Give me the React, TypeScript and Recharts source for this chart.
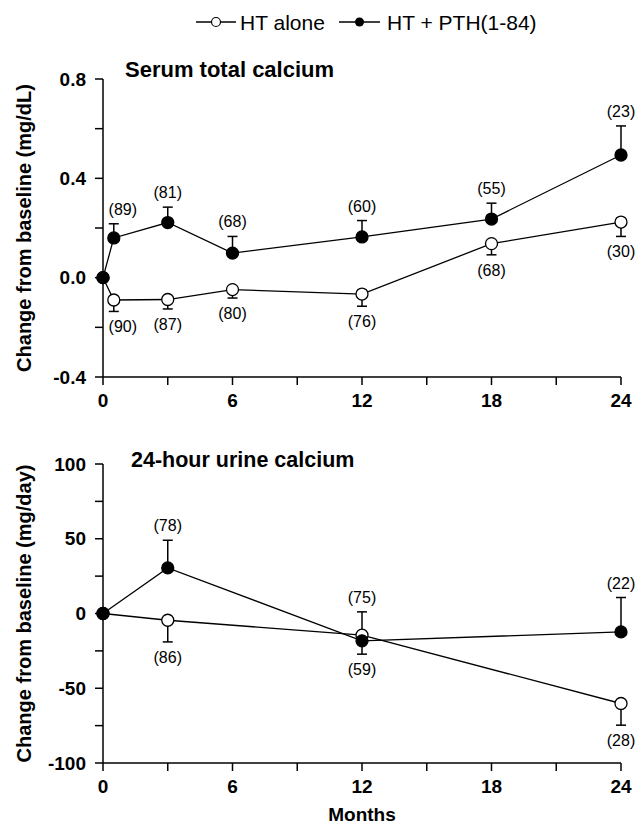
import { LineChart, Line, XAxis, YAxis, ErrorBar, LabelList } from 'recharts'

// serum total calcium, change from baseline (mg/dL)
const serumMonths = [0, 0.5, 3, 6, 12, 18, 24]
const serumAlone = [0, -0.09, -0.088, -0.048, -0.066, 0.137, 0.224]
const serumAloneErr = [0, 0.046, 0.038, 0.034, 0.049, 0.045, 0.058]
const serumAloneN = ['', '(90)', '(87)', '(80)', '(76)', '(68)', '(30)']
const serumPth = [0, 0.16, 0.222, 0.099, 0.164, 0.236, 0.494]
const serumPthErr = [0, 0.057, 0.062, 0.067, 0.066, 0.064, 0.117]
const serumPthN = ['', '(89)', '(81)', '(68)', '(60)', '(55)', '(23)']
const serumAloneDir = [-1, -1, -1, -1, -1, -1, -1]
const serumPthDir = [1, 1, 1, 1, 1, 1, 1]

// 24-hour urine calcium, change from baseline (mg/day)
const urineMonths = [0, 3, 12, 24]
const urineAlone = [0, -4.5, -14.5, -60.2]
const urineAloneErr = [0, 14.5, 15.6, 14.5]
const urineAloneN = ['', '(86)', '(75)', '(28)']
const urinePth = [0, 30.5, -18.3, -12.3]
const urinePthErr = [0, 18.5, 8.9, 23]
const urinePthN = ['', '(78)', '(59)', '(22)']
const urineAloneDir = [-1, -1, 1, -1]
const urinePthDir = [1, 1, -1, 1]

const monthTicks = [0, 3, 6, 9, 12, 15, 18, 21, 24]
const serumTicks = [-0.4, -0.2, 0, 0.2, 0.4, 0.6, 0.8]
const urineTicks = [-100, -75, -50, -25, 0, 25, 50, 75, 100]

const FONT = '"Liberation Sans", Arial, Helvetica, sans-serif'

function build(months: number[], alone: number[], aloneErr: number[], aloneN: string[], aloneDir: number[],
  pth: number[], pthErr: number[], pthN: string[], pthDir: number[]) {
  return months.map((m, i) => ({
    month: m,
    alone: alone[i],
    aloneErr: aloneDir[i] < 0 ? [aloneErr[i], 0] : [0, aloneErr[i]],
    aloneEnd: alone[i] + aloneDir[i] * aloneErr[i],
    aloneN: aloneN[i],
    pth: pth[i],
    pthErr: pthDir[i] < 0 ? [pthErr[i], 0] : [0, pthErr[i]],
    pthEnd: pth[i] + pthDir[i] * pthErr[i],
    pthN: pthN[i],
  }))
}

const serumData = build(serumMonths, serumAlone, serumAloneErr, serumAloneN, serumAloneDir,
  serumPth, serumPthErr, serumPthN, serumPthDir)
const urineData = build(urineMonths, urineAlone, urineAloneErr, urineAloneN, urineAloneDir,
  urinePth, urinePthErr, urinePthN, urinePthDir)

// (n) labels sit past the end of the error bar
const nLabel = (dirs: number[]) => (props: any) => {
  const { value, index } = props
  if (!value) return null
  const x = props.x ?? props.viewBox?.x
  const y = props.y ?? props.viewBox?.y
  const below = dirs[index] < 0
  const dx = x < 125 ? 9 : 0
  return (
    <text x={x + dx} y={below ? y + 21 : y - 9} textAnchor="middle" fontSize={16} fill="#000" fontFamily={FONT}>
      {value}
    </text>
  )
}

const axisStroke = { stroke: '#000', strokeWidth: 1.5 }
const tickStyle = { fill: '#000', fontSize: 19, fontWeight: 'bold' }
const openDot = { r: 6, fill: '#fff', stroke: '#000', strokeWidth: 1.3 }
const filledDot = { r: 6, fill: '#000', stroke: '#000', strokeWidth: 1.3 }

function Panel({ data, height, top, ticks, domain, yFormat, yLabel, aloneDir, pthDir, xHeight, showMonths }: any) {
  return (
    <LineChart width={639} height={height} data={data} margin={{ top, right: 18, bottom: 0, left: 0 }}>
      <XAxis
        dataKey="month"
        type="number"
        domain={[0, 24]}
        ticks={monthTicks}
        interval={0}
        tickFormatter={(v: number) => (v % 6 === 0 ? String(v) : '')}
        axisLine={axisStroke}
        tickLine={axisStroke}
        tickSize={8}
        tickMargin={9}
        tick={tickStyle}
        height={xHeight}
        label={showMonths ? { value: 'Months', position: 'insideBottom', offset: 6, style: { fontWeight: 'bold', fontSize: 19, fill: '#000' } } : undefined}
      />
      <YAxis
        type="number"
        domain={domain}
        ticks={ticks}
        interval={0}
        tickFormatter={yFormat}
        axisLine={axisStroke}
        tickLine={axisStroke}
        tickSize={8}
        tickMargin={9}
        tick={tickStyle}
        width={103}
        label={{ value: yLabel, angle: -90, position: 'insideLeft', offset: 24, style: { textAnchor: 'middle', fontWeight: 'bold', fontSize: 20, fill: '#000' } }}
      />
      <Line dataKey="aloneEnd" stroke="none" dot={false} activeDot={false} legendType="none" isAnimationActive={false}>
        <LabelList dataKey="aloneN" content={nLabel(aloneDir)} />
      </Line>
      <Line dataKey="pthEnd" stroke="none" dot={false} activeDot={false} legendType="none" isAnimationActive={false}>
        <LabelList dataKey="pthN" content={nLabel(pthDir)} />
      </Line>
      <Line type="linear" dataKey="alone" stroke="#000" strokeWidth={1.3} dot={openDot} activeDot={false} isAnimationActive={false}>
        <ErrorBar dataKey="aloneErr" direction="y" width={5} stroke="#000" strokeWidth={1.5} />
      </Line>
      <Line type="linear" dataKey="pth" stroke="#000" strokeWidth={1.3} dot={filledDot} activeDot={false} isAnimationActive={false}>
        <ErrorBar dataKey="pthErr" direction="y" width={5} stroke="#000" strokeWidth={1.5} />
      </Line>
    </LineChart>
  )
}

export default function App() {
  return (
    <div style={{ position: 'absolute', left: 0, top: 0, width: 639, height: 827, background: '#fff', fontFamily: FONT }}>
      <div style={{ position: 'absolute', left: 0, top: 0 }}>
        <Panel
          data={serumData}
          height={410}
          top={79}
          xHeight={33}
          ticks={serumTicks}
          domain={[-0.4, 0.8]}
          yFormat={(v: number) => (Math.round(v * 10) % 4 === 0 ? v.toFixed(1) : '')}
          yLabel="Change from baseline (mg/dL)"
          aloneDir={serumAloneDir}
          pthDir={serumPthDir}
        />
      </div>
      <div style={{ position: 'absolute', left: 0, top: 410 }}>
        <Panel
          data={urineData}
          height={417}
          top={54}
          xHeight={64}
          showMonths
          ticks={urineTicks}
          domain={[-100, 100]}
          yFormat={(v: number) => (v % 50 === 0 ? String(v) : '')}
          yLabel="Change from baseline (mg/day)"
          aloneDir={urineAloneDir}
          pthDir={urinePthDir}
        />
      </div>
      <svg width={639} height={827} style={{ position: 'absolute', left: 0, top: 0, pointerEvents: 'none' }} fontFamily={FONT}>
        <line x1={196} x2={236} y1={22} y2={22} stroke="#000" strokeWidth={1.3} />
        <circle cx={216} cy={22} r={4.5} fill="#fff" stroke="#000" strokeWidth={1.2} />
        <text x={240} y={30} fontSize={21} fill="#000">HT alone</text>
        <line x1={339} x2={380} y1={22} y2={22} stroke="#000" strokeWidth={1.3} />
        <circle cx={359.5} cy={22} r={4.5} fill="#000" />
        <text x={387} y={30} fontSize={21} fill="#000">HT + PTH(1-84)</text>
        <text x={125} y={77} fontSize={22} fontWeight="bold" fill="#000">Serum total calcium</text>
        <text x={131} y={467} fontSize={21.5} fontWeight="bold" fill="#000">24-hour urine calcium</text>
      </svg>
    </div>
  )
}
